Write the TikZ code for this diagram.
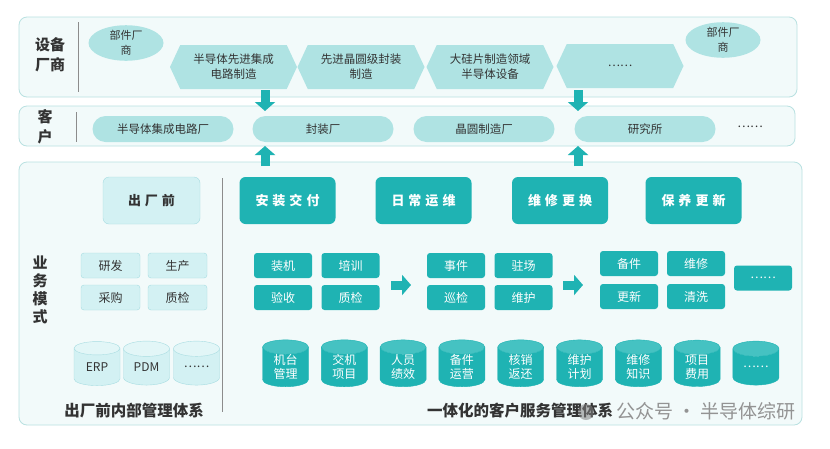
\documentclass[tikz,border=0pt]{standalone}
\usepackage{fontspec}
\setmainfont{Noto Sans CJK SC}
\usetikzlibrary{shapes.geometric,shapes.symbols,arrows.meta}

\definecolor{panelfill}{HTML}{F2FAFA}
\definecolor{panelline}{HTML}{B9E1E1}
\definecolor{hexfill}{HTML}{AFE3E3}
\definecolor{tealbox}{HTML}{1FB3B3}
\definecolor{tealtop}{HTML}{45C2C2}
\definecolor{lightfill}{HTML}{D3F1F3}
\definecolor{lightline}{HTML}{A6DCE1}
\definecolor{lighttop}{HTML}{E2F6F7}
\definecolor{textdark}{HTML}{333333}
\definecolor{sepgray}{HTML}{8C8C8C}
\newcommand{\gap}{\hspace{4pt}}
\newcommand{\fs}[2]{\fontsize{#1}{#2}\selectfont}

\tikzset{
  panel/.style={draw=panelline, fill=panelfill, rounded corners=8pt, line width=0.8pt},
  sepline/.style={draw=sepgray, line width=0.6pt},
  grouplabel/.style={align=center, text=textdark, font=\fs{15}{20}\bfseries, inner sep=0pt},
  hexbox/.style={signal, signal to=east and west, signal pointer angle=130, fill=hexfill,
    minimum width=127pt, minimum height=44pt, inner sep=0pt, align=center,
    text=textdark, font=\fs{11.5}{15}},
  partoval/.style={ellipse, fill=hexfill, minimum width=75pt, minimum height=33pt,
    inner sep=0pt, align=center, text=textdark, font=\fs{11}{15}},
  stadium/.style={fill=hexfill, rounded corners=13pt, minimum width=141pt, minimum height=26pt,
    inner sep=0pt, text=textdark, font=\fs{11.5}{14}},
  phasebox/.style={fill=tealbox, rounded corners=6pt, minimum width=96pt, minimum height=47pt,
    inner sep=0pt, text=white, font=\fs{13}{16}\bfseries},
  prebox/.style={draw=lightline, fill=lightfill, rounded corners=6pt, minimum width=97pt,
    minimum height=47pt, inner sep=0pt, text=textdark, font=\fs{13}{16}\bfseries},
  taskbox/.style={fill=tealbox, rounded corners=3pt, minimum width=58pt, minimum height=25pt,
    inner sep=0pt, text=white, font=\fs{12}{14}},
  pretask/.style={draw=lightline, fill=lightfill, rounded corners=3pt, minimum width=59pt,
    minimum height=25pt, inner sep=0pt, text=textdark, font=\fs{12}{14}},
  sysdb/.style={cylinder, shape border rotate=90, aspect=0.6, minimum width=46pt,
    minimum height=44pt, inner sep=0pt, align=center, cylinder uses custom fill,
    font=\fs{12}{14}},
  tealdb/.style={sysdb, draw=tealbox, cylinder body fill=tealbox, cylinder end fill=tealtop,
    text=white},
  lightdb/.style={sysdb, draw=lightline, cylinder body fill=lightfill, cylinder end fill=lighttop,
    text=textdark},
  blockarrow/.style={draw=tealbox, line width=9pt, -{Triangle[length=9pt, width=20pt]}},
  systitle/.style={text=textdark, font=\fs{15.5}{18}\bfseries, inner sep=0pt}
}

\begin{document}
\begin{tikzpicture}[x=1pt, y=-1pt]
  \useasboundingbox[fill=white] (0,0) rectangle (830,448);

  % equipment makers
  \draw[panel] (19,17) rectangle (797,97);
  \node[grouplabel] (equip) at (50,55) {设备\\厂商};
  \draw[sepline] (78,22) -- (78,92);
  \node[partoval] (partsL) at (126,43) {部件厂\\商};
  \node[partoval] (partsR) at (723,40) {部件厂\\商};
  \node[hexbox] (icmake) at (233.5,67) {半导体先进集成\\电路制造};
  \node[hexbox] (wlpack) at (361,67) {先进晶圆级封装\\制造};
  \node[hexbox] (wafer) at (490,67) {大硅片制造领域\\半导体设备};
  \node[hexbox] (moreeq) at (620,66) {……};

  % customers
  \draw[panel] (19,106) rectangle (795,146);
  \node[grouplabel] (cust) at (45,127) {客\\户};
  \draw[sepline] (76,112) -- (76,142);
  \node[stadium] (icfab) at (163,129) {半导体集成电路厂};
  \node[stadium] (packfab) at (323,129) {封装厂};
  \node[stadium] (waferfab) at (484,129) {晶圆制造厂};
  \node[stadium] (lab) at (645,129) {研究所};
  \node[text=textdark, font=\fs{12}{14}] (morecust) at (750,127) {……};

  \coordinate (d1s) at (265,90);  \coordinate (d1e) at (265,111);
  \coordinate (d2s) at (578,90);  \coordinate (d2e) at (578,111);
  \draw[blockarrow] (d1s) -- (d1e);
  \draw[blockarrow] (d2s) -- (d2e);

  % business model
  \draw[panel] (19,162) rectangle (802,425);
  \node[grouplabel, font=\fs{15}{18}\bfseries] (model) at (40,290) {业\\务\\模\\式};
  \draw[sepline] (222,178) -- (222,412);

  \coordinate (u1s) at (265,166); \coordinate (u1e) at (265,146);
  \coordinate (u2s) at (578,166); \coordinate (u2e) at (578,146);
  \draw[blockarrow] (u1s) -- (u1e);
  \draw[blockarrow] (u2s) -- (u2e);

  % before leaving the factory
  \node[prebox] (prefab) at (151.5,200.5) {出\gap 厂\gap 前};
  \node[pretask] (rd) at (110.5,265.5) {研发};
  \node[pretask] (prod) at (177.5,265.5) {生产};
  \node[pretask] (buy) at (110.5,297.5) {采购};
  \node[pretask] (qcpre) at (177.5,297.5) {质检};
  \node[lightdb] (erp) at (97,367) {ERP};
  \node[lightdb] (pdm) at (146.5,367) {PDM};
  \node[lightdb] (moresys) at (196.5,367) {……};
  \node[systitle] (pretitle) at (134,411) {出厂前内部管理体系};

  % service phases
  \node[phasebox] (deliver) at (287.5,200.5) {安\gap 装\gap 交\gap 付};
  \node[phasebox] (daily) at (423.5,200.5) {日\gap 常\gap 运\gap 维};
  \node[phasebox] (repair) at (560,200.5) {维\gap 修\gap 更\gap 换};
  \node[phasebox] (upkeep) at (693.5,200.5) {保\gap 养\gap 更\gap 新};

  \node[taskbox] (install) at (283,265.5) {装机};
  \node[taskbox] (train) at (350.5,265.5) {培训};
  \node[taskbox] (accept) at (283,297.5) {验收};
  \node[taskbox] (qcpost) at (350.5,297.5) {质检};
  \node[taskbox] (event) at (456,265.5) {事件};
  \node[taskbox] (onsite) at (523.5,265.5) {驻场};
  \node[taskbox] (patrol) at (456,297.5) {巡检};
  \node[taskbox] (maint) at (523.5,297.5) {维护};
  \node[taskbox] (spare) at (629,263.5) {备件};
  \node[taskbox] (fix) at (696,263.5) {维修};
  \node[taskbox] (renew) at (629,296.5) {更新};
  \node[taskbox] (clean) at (696,296.5) {清洗};
  \node[taskbox] (moretask) at (763,278) {……};

  \coordinate (r1s) at (391,285); \coordinate (r1e) at (411,285);
  \coordinate (r2s) at (563,285); \coordinate (r2e) at (583,285);
  \draw[blockarrow] (r1s) -- (r1e);
  \draw[blockarrow] (r2s) -- (r2e);

  % service systems
  \foreach \txt [count=\i from 0] in {机台\\管理, 交机\\项目, 人员\\绩效, 备件\\运营,
      核销\\返还, 维护\\计划, 维修\\知识, 项目\\费用, ……}
    \node[tealdb] (db\i) at (285.5+58.8*\i,367) {\txt};
  \node[systitle] (posttitle) at (520,411) {一体化的客户服务管理体系};

  % watermark
  \fill[gray, opacity=0.55] (586,412) circle (8);
  \node[text=gray!85, font=\fs{19}{22}, inner sep=0pt] (mark) at (706,411) {公众号 · 半导体综研};
\end{tikzpicture}
\end{document}
